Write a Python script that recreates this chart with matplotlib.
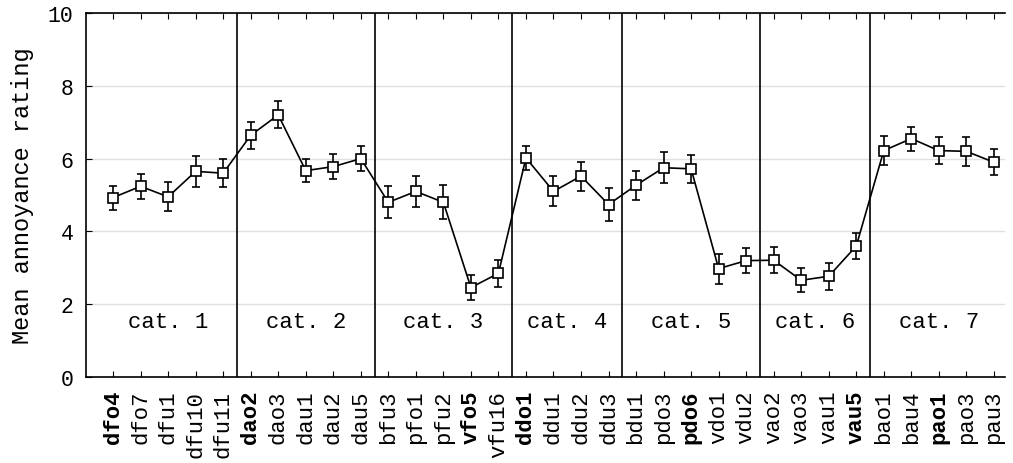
import numpy as np
import matplotlib.pyplot as plt

plt.rcParams['font.family'] = ['Liberation Mono', 'DejaVu Sans Mono']

# stimuli, per category
labels = ['dfo4', 'dfo7', 'dfu1', 'dfu10', 'dfu11',
          'dao2', 'dao3', 'dau1', 'dau2', 'dau5',
          'bfu3', 'pfo1', 'pfu2', 'vfo5', 'vfu16',
          'ddo1', 'ddu1', 'ddu2', 'ddu3',
          'bdu1', 'pdo3', 'pdo6', 'vdo1', 'vdu2',
          'vao2', 'vao3', 'vau1', 'vau5',
          'bao1', 'bau4', 'pao1', 'pao3', 'pau3']
bold_labels = ['dfo4', 'dao2', 'vfo5', 'ddo1', 'pdo6', 'vau5', 'pao1']
cat_sizes = [5, 5, 5, 4, 5, 4, 5]
cat_names = ['cat. 1', 'cat. 2', 'cat. 3', 'cat. 4', 'cat. 5', 'cat. 6', 'cat. 7']

means = [4.93, 5.24, 4.95, 5.65, 5.60,
         6.64, 7.20, 5.67, 5.78, 6.00,
         4.80, 5.10, 4.80, 2.46, 2.85,
         6.02, 5.10, 5.52, 4.74,
         5.27, 5.75, 5.72, 2.98, 3.20,
         3.21, 2.66, 2.77, 3.60,
         6.22, 6.55, 6.22, 6.20, 5.90]
errs = [0.33, 0.34, 0.40, 0.42, 0.38,
        0.37, 0.37, 0.32, 0.35, 0.35,
        0.44, 0.43, 0.47, 0.35, 0.38,
        0.34, 0.41, 0.40, 0.45,
        0.40, 0.42, 0.38, 0.41, 0.35,
        0.35, 0.33, 0.37, 0.36,
        0.39, 0.33, 0.38, 0.40, 0.36]

x = np.arange(len(labels))

fig = plt.figure(figsize=(10.13, 4.64), dpi=100)
ax = fig.add_axes([0.085, 0.185, 0.907, 0.785])

ax.grid(axis='y', color='#e0e0e0', lw=1)
ax.set_axisbelow(True)

ax.errorbar(x, means, yerr=errs, color='black', lw=1.2, marker='s', ms=7.5,
            mfc='white', mec='black', mew=1.2, capsize=3, elinewidth=1.2, zorder=3)

# category separators and names
start = 0
for size, name in zip(cat_sizes, cat_names):
    end = start + size
    if end < len(labels):
        ax.axvline(end - 0.5, color='black', lw=1.2, zorder=2)
    ax.text((start + end - 1) / 2, 1.53, name, ha='center', va='center', fontsize=16)
    start = end

ax.set_xlim(-0.98, 32.4)
ax.set_ylim(0, 10)
ax.set_yticks([0, 2, 4, 6, 8, 10])
ax.set_xticks(x)
ax.set_xticklabels(labels, rotation=90, fontsize=16)
for t in ax.get_xticklabels():
    if t.get_text() in bold_labels:
        t.set_fontweight('bold')
ax.tick_params(axis='y', labelsize=15.5, direction='in', length=4, pad=9)
ax.tick_params(axis='x', direction='in', length=4, top=True, pad=9)
ax.spines['right'].set_visible(False)
for s in ['left', 'bottom', 'top']:
    ax.spines[s].set_linewidth(1.2)
ax.set_ylabel('Mean annoyance rating', fontsize=17, labelpad=10)

fig.savefig('out.png', dpi=100)
